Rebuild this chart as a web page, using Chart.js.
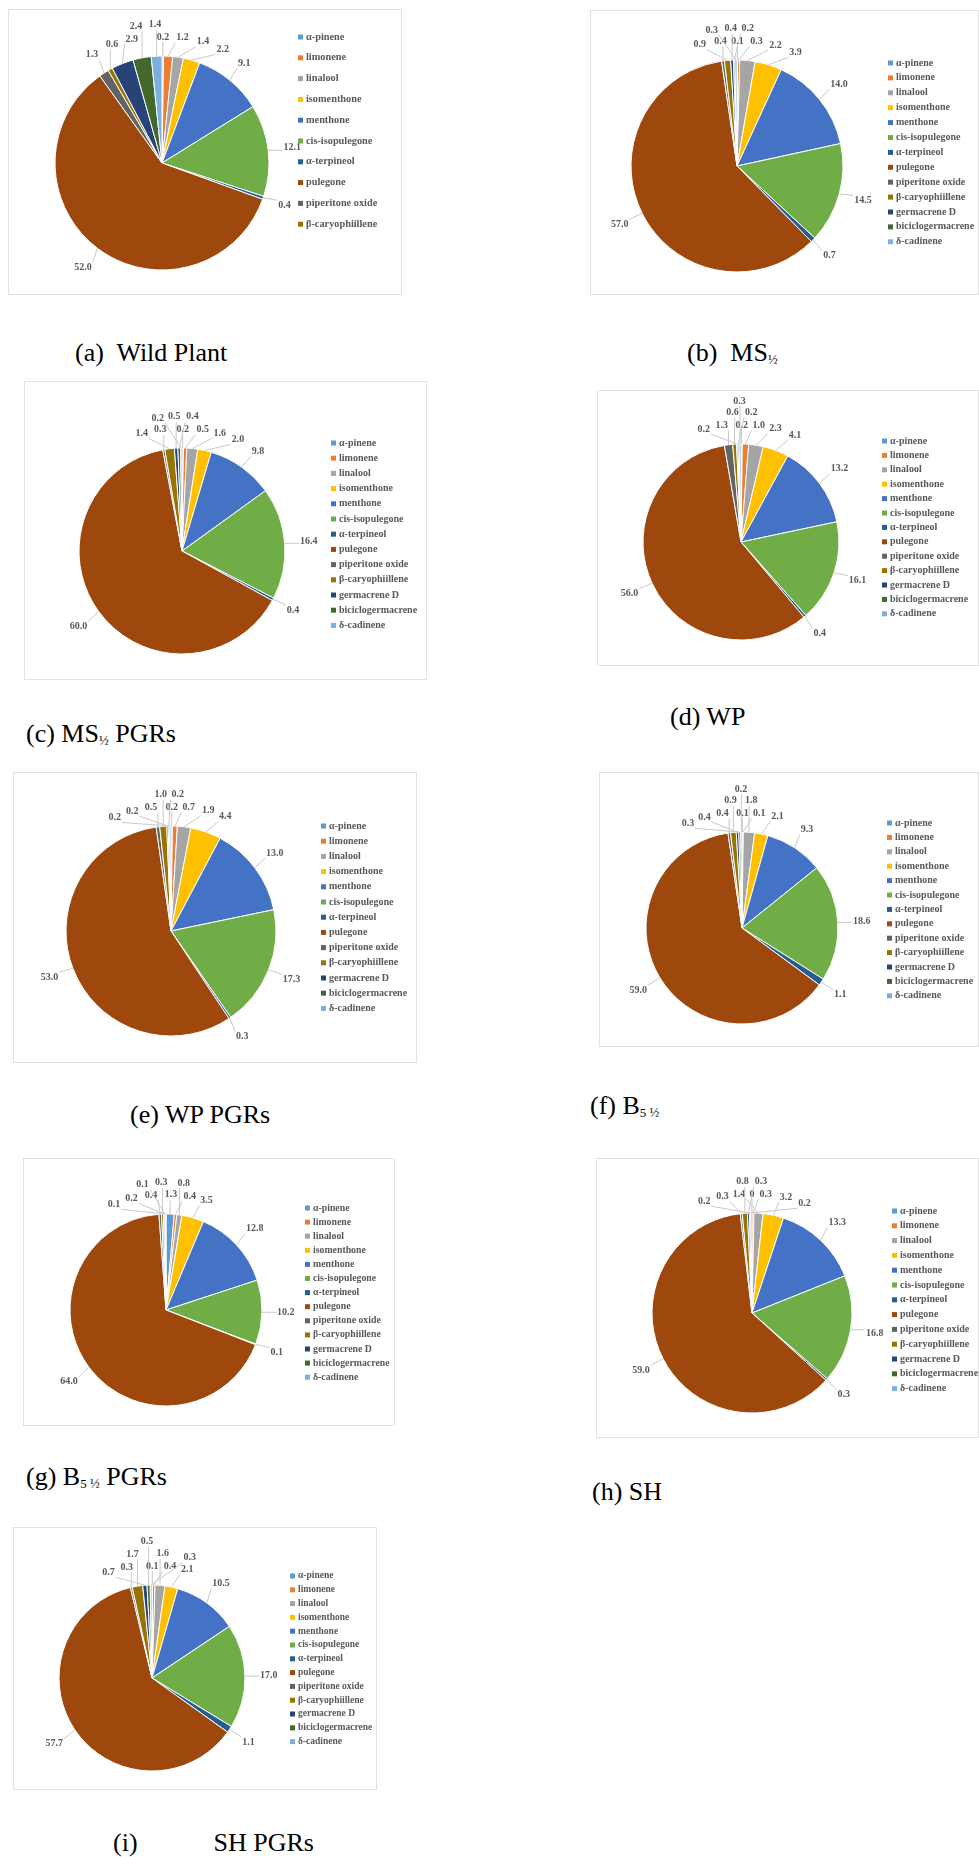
<!DOCTYPE html>
<html>
<head>
<meta charset="utf-8">
<script src="https://cdn.jsdelivr.net/npm/chart.js@4.4.1/dist/chart.umd.min.js"></script>
<style>
  body { margin: 0; background: #fff; width: 979px; height: 1857px; position: relative; overflow: hidden; font-family: "Liberation Serif", serif; }
  .frame { position: absolute; box-sizing: border-box; border: 1px solid #e2e2e2; background: #fff; }
  canvas { position: absolute; }
  .cap { position: absolute; font-size: 26px; line-height: 30px; color: #000; white-space: pre; }
  .cap sub { font-size: 13px; vertical-align: -3px; }
</style>
</head>
<body>
<div class="cap" style="left:75px;top:338px">(a)  Wild Plant</div>
<div class="cap" style="left:687px;top:338px">(b)  MS<sub>½</sub></div>
<div class="cap" style="left:26px;top:719px">(c) MS<sub>½</sub> PGRs</div>
<div class="cap" style="left:670px;top:702px">(d) WP</div>
<div class="cap" style="left:130px;top:1100px">(e) WP PGRs</div>
<div class="cap" style="left:590px;top:1091px">(f) B<sub>5 ½</sub></div>
<div class="cap" style="left:26px;top:1462px">(g) B<sub>5 ½</sub> PGRs</div>
<div class="cap" style="left:592px;top:1477px">(h) SH</div>
<div class="cap" style="left:113px;top:1828px">(i)<span style="margin-left:76px">SH PGRs</span></div>
<script>
// compounds, in the order the slices run clockwise from 12 o'clock
const compounds = ['α-pinene', 'limonene', 'linalool', 'isomenthone', 'menthone', 'cis-isopulegone',
  'α-terpineol', 'pulegone', 'piperitone oxide', 'β-caryophiillene', 'germacrene D',
  'biciclogermacrene', 'δ-cadinene'];
const sliceColors = ['#5B9BD5', '#ED7D31', '#A5A5A5', '#FFC000', '#4472C4', '#70AD47',
  '#255E91', '#9E480E', '#636363', '#997300', '#264478', '#43682B', '#7CAFDD'];

// percentages per culture condition
const wildPlant = [0.2, 1.2, 1.4, 2.2, 9.1, 12.1, 0.4, 52.0, 1.3, 0.6, 2.9, 2.4, 1.4];
const ms = [0.1, 0.3, 2.2, 3.9, 14.0, 14.5, 0.7, 57.0, 0.4, 0.9, 0.4, 0.2, 0.3];
const msPgrs = [0.2, 0.5, 1.6, 2.0, 9.8, 16.4, 0.4, 60.0, 0.3, 1.4, 0.5, 0.4, 0.2];
const wp = [0.2, 1.0, 2.3, 4.1, 13.2, 16.1, 0.4, 56.0, 1.3, 0.6, 0.2, 0.2, 0.3];
const wpPgrs = [0.2, 0.7, 1.9, 4.4, 13.0, 17.3, 0.3, 53.0, 0.5, 1.0, 0.2, 0.2, 0.2];
const b5 = [0.1, 0.1, 1.8, 2.1, 9.3, 18.6, 1.1, 59.0, 0.4, 0.9, 0.4, 0.3, 0.2];
const b5Pgrs = [1.3, 0.4, 0.8, 3.5, 12.8, 10.2, 0.1, 64.0, 0.4, 0.3, 0.2, 0.1, 0.1];
const sh = [0, 0.3, 1.4, 3.2, 13.3, 16.8, 0.3, 59.0, 0.3, 0.8, 0.3, 0.2, 0.2];
const shPgrs = [0.1, 0.4, 1.6, 2.1, 10.5, 17.0, 1.1, 57.7, 0.3, 1.7, 0.7, 0.5, 0.3];

// layout: box [x, y, w, h], pie [cx, cy, r] inside box, legend [x, y, step, font] inside box
const panels = [
  { values: wildPlant, box: [8, 9, 394, 286], pie: [154, 154, 107], legend: [290, 28, 20.8, 10.3], legendCount: 10 },
  { values: ms, box: [590, 10, 389, 285], pie: [147, 156, 106], legend: [298, 53, 14.9, 10] },
  { values: msPgrs, box: [24, 381, 403, 299], pie: [158, 170, 103], legend: [307, 62, 15.2, 10] },
  { values: wp, box: [597, 390, 382, 276], pie: [144, 152, 98], legend: [285, 51, 14.4, 10] },
  { values: wpPgrs, box: [13, 772, 404, 291], pie: [158, 159, 105], legend: [308, 54, 15.2, 10] },
  { values: b5, box: [599, 772, 380, 275], pie: [143, 156, 96], legend: [288, 51, 14.4, 10] },
  { values: b5Pgrs, box: [23, 1158, 372, 268], pie: [143, 152, 96], legend: [282, 50, 14.1, 9.8] },
  { values: sh, box: [596, 1158, 383, 280], pie: [156, 155, 100], legend: [296, 53, 14.8, 10] },
  { values: shPgrs, box: [13, 1527, 364, 263], pie: [139, 151, 93], legend: [277, 49, 13.8, 9.5] },
];

function fmt(v) {
  return v === 0 ? '0' : v.toFixed(1);
}

function overlap(a, b) {
  return a.x0 < b.x1 + 2 && b.x0 < a.x1 + 2 && a.y0 < b.y1 + 1 && b.y0 < a.y1 + 1;
}

// candidate spots round each slice: distance out from the rim and angle shift
const spots = [];
for (let g = 14; g <= 50; g += 6) {
  for (let d = -40; d <= 40; d += 2) {
    spots.push({ g, d, cost: g + Math.abs(d) * 0.9 });
  }
}
spots.sort((a, b) => a.cost - b.cost);

// value labels outside the pie with leader lines, spread when they collide
const outsideLabels = {
  id: 'outsideLabels',
  afterDatasetsDraw(chart) {
    const ctx = chart.ctx;
    const meta = chart.getDatasetMeta(0);
    const vals = chart.data.datasets[0].data;
    const W = chart.width;
    ctx.save();
    ctx.font = 'bold 10px "Liberation Serif"';
    ctx.textAlign = 'center';
    ctx.textBaseline = 'middle';
    const placed = [];
    meta.data.forEach((arc, i) => {
      const txt = fmt(vals[i]);
      const mid = (arc.startAngle + arc.endAngle) / 2;
      const hw = ctx.measureText(txt).width / 2 + 1;
      const hh = 5;
      let box = null;
      for (const sp of spots) {
        const a = mid + sp.d * Math.PI / 180;
        const ux = Math.cos(a), uy = Math.sin(a);
        const R = arc.outerRadius + sp.g + Math.abs(ux) * hw + Math.abs(uy) * hh;
        const x = arc.x + ux * R, y = arc.y + uy * R;
        const b = { x0: x - hw, x1: x + hw, y0: y - hh, y1: y + hh, x, y };
        if (b.y0 < 2 || b.x0 < 2 || b.x1 > W - 2) continue;
        if (placed.some(p => overlap(p, b))) continue;
        box = b;
        break;
      }
      if (!box) return;
      placed.push(box);
      const ex = arc.x + Math.cos(mid) * arc.outerRadius;
      const ey = arc.y + Math.sin(mid) * arc.outerRadius;
      const lx = Math.min(Math.max(ex, box.x0), box.x1);
      const ly = Math.min(Math.max(ey, box.y0), box.y1);
      ctx.strokeStyle = '#c8c8c8';
      ctx.lineWidth = 1;
      ctx.beginPath();
      ctx.moveTo(ex, ey);
      ctx.lineTo(lx, ly);
      ctx.stroke();
      ctx.fillStyle = '#595959';
      ctx.fillText(txt, box.x, box.y);
    });
    ctx.restore();
  }
};

const sideLegend = {
  id: 'sideLegend',
  afterDraw(chart, args, opts) {
    const ctx = chart.ctx;
    const names = chart.data.labels.slice(0, opts.count);
    const colors = chart.data.datasets[0].backgroundColor;
    ctx.save();
    ctx.font = `bold ${opts.font}px "Liberation Serif"`;
    ctx.textBaseline = 'middle';
    ctx.textAlign = 'left';
    names.forEach((name, i) => {
      const y = opts.y + i * opts.step;
      ctx.fillStyle = colors[i];
      ctx.fillRect(opts.x, y - 2.5, 5, 5);
      ctx.fillStyle = '#595959';
      ctx.fillText(name, opts.x + 8, y);
    });
    ctx.restore();
  }
};

panels.forEach(p => {
  const [bx, by, bw, bh] = p.box;
  const frame = document.createElement('div');
  frame.className = 'frame';
  frame.style.cssText = `left:${bx}px;top:${by}px;width:${bw}px;height:${bh}px`;
  document.body.appendChild(frame);

  const canvas = document.createElement('canvas');
  canvas.width = bw;
  canvas.height = bh;
  canvas.style.cssText = `left:${bx}px;top:${by}px;width:${bw}px;height:${bh}px`;
  document.body.appendChild(canvas);

  const [cx, cy, r] = p.pie;
  const s = 2 * r + 1;
  const padL = cx - s / 2, padT = cy - s / 2;

  new Chart(canvas.getContext('2d'), {
    type: 'pie',
    data: {
      labels: compounds,
      datasets: [{
        data: p.values,
        backgroundColor: sliceColors,
        borderColor: '#ffffff',
        borderWidth: 1,
      }],
    },
    options: {
      responsive: false,
      animation: false,
      devicePixelRatio: 1,
      layout: { padding: { left: padL, top: padT, right: bw - padL - s, bottom: bh - padT - s } },
      plugins: {
        legend: { display: false },
        tooltip: { enabled: false },
        sideLegend: {
          x: p.legend[0], y: p.legend[1], step: p.legend[2], font: p.legend[3],
          count: p.legendCount || compounds.length,
        },
      },
    },
    plugins: [outsideLabels, sideLegend],
  });
});
</script>
</body>
</html>
